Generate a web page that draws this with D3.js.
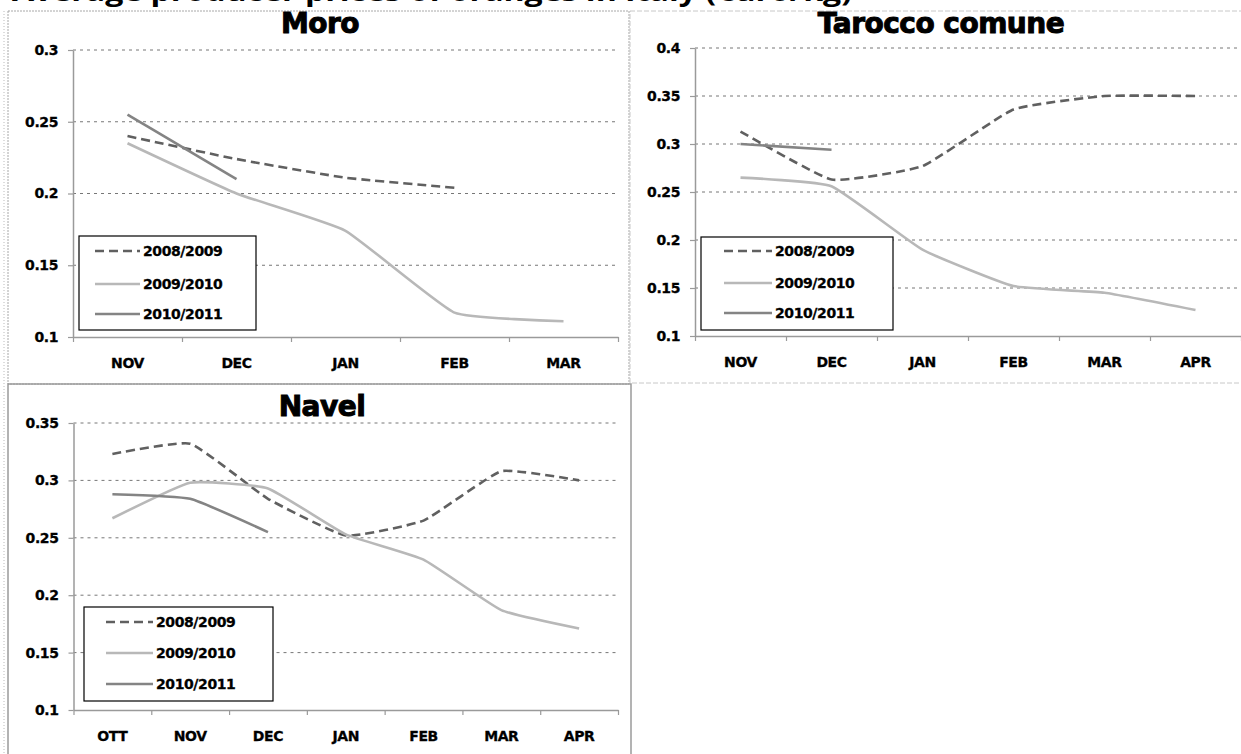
<!DOCTYPE html>
<html>
<head>
<meta charset="utf-8">
<script src="https://cdn.jsdelivr.net/npm/d3@7"></script>
<style>
body { margin: 0; background: #fff; }
svg { display: block; }
</style>
</head>
<body>
<div id="chart"></div>
<script>
// values (euro/kg)
const seasons = ["2008/2009", "2009/2010", "2010/2011"];

const moroMonths = ["NOV", "DEC", "JAN", "FEB", "MAR"];
const moro0809 = [0.24, 0.224, 0.211, 0.204];
const moro0910 = [0.235, 0.2, 0.174, 0.117, 0.111];
const moro1011 = [0.255, 0.21];
const moroTicks = [0.1, 0.15, 0.2, 0.25, 0.3];

const taroccoMonths = ["NOV", "DEC", "JAN", "FEB", "MAR", "APR"];
const tarocco0809 = [0.313, 0.263, 0.277, 0.336, 0.35, 0.35];
const tarocco0910 = [0.265, 0.256, 0.19, 0.152, 0.145, 0.127];
const tarocco1011 = [0.3, 0.294];
const taroccoTicks = [0.1, 0.15, 0.2, 0.25, 0.3, 0.35, 0.4];

const navelMonths = ["OTT", "NOV", "DEC", "JAN", "FEB", "MAR", "APR"];
const navel0809 = [0.323, 0.332, 0.284, 0.252, 0.265, 0.308, 0.3];
const navel0910 = [0.267, 0.298, 0.293, 0.253, 0.231, 0.187, 0.171];
const navel1011 = [0.288, 0.284, 0.255];
const navelTicks = [0.1, 0.15, 0.2, 0.25, 0.3, 0.35];

const pageTitle = "Average producer prices of oranges in Italy (€uro/kg)";

const width = 1241, height = 754;
const seriesStyle = [
	{stroke: "#606060", dash: "9,5"},
	{stroke: "#b8b8b8", dash: null},
	{stroke: "#848484", dash: null}
];
const tickFont = "'DejaVu Sans', sans-serif";

const svg = d3.select("div#chart")
	.append("svg")
	.attr("width", width)
	.attr("height", height);

// page title, cut off at the top like in the scan
svg.append("text")
	.attr("x", 12)
	.attr("y", 1)
	.attr("textLength", 840)
	.attr("lengthAdjust", "spacingAndGlyphs")
	.style("font-family", "'Open Sans', sans-serif")
	.style("font-weight", "bold")
	.style("font-size", "27px")
	.text(pageTitle);

// frames of the three pasted charts
svg.append("line")
	.attr("x1", 4).attr("x2", 4).attr("y1", 11).attr("y2", height)
	.attr("stroke", "#bbb").attr("stroke-dasharray", "1,2");
svg.append("rect")
	.attr("x", 8).attr("y", 11).attr("width", 621).attr("height", 373)
	.attr("fill", "none").attr("stroke", "#a8a8a8").attr("stroke-dasharray", "2,1");
svg.append("rect")
	.attr("x", 630).attr("y", 11).attr("width", 640).attr("height", 372)
	.attr("fill", "none").attr("stroke", "#c8c8c8").attr("stroke-dasharray", "5,2");
svg.append("rect")
	.attr("x", 8).attr("y", 384).attr("width", 623).attr("height", 400)
	.attr("fill", "none").attr("stroke", "#9a9a9a").attr("stroke-width", 1.5);

function drawPanel(p) {
	let g = svg.append("g");

	let y = d3.scaleLinear().domain(p.yDomain).range([p.yBot, p.yTop]);
	let xBand = d3.scaleBand().domain(p.months).range([p.x0, p.x1]);
	let xPoint = d3.scalePoint().domain(p.months).range([p.x0, p.x1]).padding(0.5);
	let xEdge = d3.scaleLinear().domain([0, p.months.length]).range([p.x0, p.x1]);

	g.selectAll("line.grid")
		.data(p.yTicks.filter(t => t > p.yDomain[0]))
		.join("line")
		.attr("class", "grid")
		.attr("x1", p.x0)
		.attr("x2", p.x1)
		.attr("y1", d => y(d))
		.attr("y2", d => y(d))
		.attr("stroke", "#777")
		.attr("stroke-dasharray", "3,4");

	let yAxis = g.append("g")
		.attr("transform", `translate(${p.x0}, 0)`)
		.call(d3.axisLeft(y)
			.tickValues(p.yTicks)
			.tickSize(5)
			.tickSizeOuter(0)
			.tickPadding(10)
			.tickFormat(d => String(d)));

	let xTicks = g.append("g")
		.attr("transform", `translate(0, ${p.yBot})`)
		.call(d3.axisBottom(xEdge)
			.tickValues(d3.range(p.months.length + 1))
			.tickSize(5)
			.tickSizeOuter(0)
			.tickFormat(""));

	let xLabels = g.append("g")
		.attr("transform", `translate(0, ${p.yBot})`)
		.call(d3.axisBottom(xBand).tickSize(0).tickPadding(21));
	xLabels.select(".domain").remove();

	[yAxis, xTicks].forEach(a => {
		a.select(".domain").attr("stroke", "#9a9a9a").attr("stroke-width", 1.5);
		a.selectAll(".tick line").attr("stroke", "#9a9a9a").attr("stroke-width", 1.2);
	});
	[yAxis, xLabels].forEach(a => {
		a.selectAll("text")
			.attr("fill", "#000")
			.attr("stroke", "#000")
			.attr("stroke-width", 0.3)
			.style("font-family", tickFont)
			.style("font-weight", "bold")
			.style("font-size", "14px")
			.style("letter-spacing", "-0.4px");
	});

	let line = d3.line()
		.x((d, i) => xPoint(p.months[i]))
		.y(d => y(d))
		.curve(d3.curveCardinal.tension(0.6));

	g.selectAll("path.series")
		.data(p.series)
		.join("path")
		.attr("class", "series")
		.attr("d", d => line(d))
		.attr("fill", "none")
		.attr("stroke", (d, i) => seriesStyle[i].stroke)
		.attr("stroke-width", 2.6)
		.attr("stroke-dasharray", (d, i) => seriesStyle[i].dash);

	// chart title, a bit heavier than plain bold like the original
	g.append("text")
		.attr("x", p.titleX)
		.attr("y", p.titleY)
		.attr("text-anchor", "middle")
		.attr("stroke", "#000")
		.attr("stroke-width", 1)
		.style("font-family", tickFont)
		.style("font-weight", "bold")
		.style("font-size", "28px")
		.style("letter-spacing", "-0.5px")
		.text(p.title);

	let lg = p.legend;
	g.append("rect")
		.attr("x", lg.x).attr("y", lg.y)
		.attr("width", lg.w).attr("height", lg.h)
		.attr("fill", "#fff").attr("stroke", "#000").attr("stroke-width", 1.2);

	let rows = g.selectAll("g.legend-row")
		.data(seasons)
		.join("g")
		.attr("class", "legend-row")
		.attr("transform", (d, i) => `translate(0, ${lg.rows[i]})`);
	rows.append("line")
		.attr("x1", lg.s0).attr("x2", lg.s1)
		.attr("stroke", (d, i) => seriesStyle[i].stroke)
		.attr("stroke-width", 2.6)
		.attr("stroke-dasharray", (d, i) => seriesStyle[i].dash);
	rows.append("text")
		.attr("x", lg.t)
		.attr("dy", "0.36em")
		.attr("stroke", "#000")
		.attr("stroke-width", 0.3)
		.style("font-family", tickFont)
		.style("font-weight", "bold")
		.style("font-size", "14px")
		.style("letter-spacing", "-0.4px")
		.text(d => d);
}

drawPanel({
	title: "Moro", titleX: 320, titleY: 33,
	months: moroMonths,
	series: [moro0809, moro0910, moro1011],
	yDomain: [0.1, 0.3], yTicks: moroTicks,
	x0: 73, x1: 618, yTop: 50, yBot: 337,
	legend: {x: 79, y: 236, w: 177, h: 94, rows: [251, 284, 314], s0: 95, s1: 140, t: 143}
});

drawPanel({
	title: "Tarocco comune", titleX: 941, titleY: 33,
	months: taroccoMonths,
	series: [tarocco0809, tarocco0910, tarocco1011],
	yDomain: [0.1, 0.4], yTicks: taroccoTicks,
	x0: 695, x1: 1241, yTop: 48, yBot: 336,
	legend: {x: 701, y: 237, w: 192, h: 93, rows: [251, 283, 313], s0: 724, s1: 772, t: 775}
});

drawPanel({
	title: "Navel", titleX: 322, titleY: 416,
	months: navelMonths,
	series: [navel0809, navel0910, navel1011],
	yDomain: [0.1, 0.35], yTicks: navelTicks,
	x0: 73.5, x1: 618, yTop: 423, yBot: 710,
	legend: {x: 84, y: 607, w: 189, h: 94, rows: [622, 653, 684], s0: 106, s1: 153, t: 156}
});
</script>
</body>
</html>
